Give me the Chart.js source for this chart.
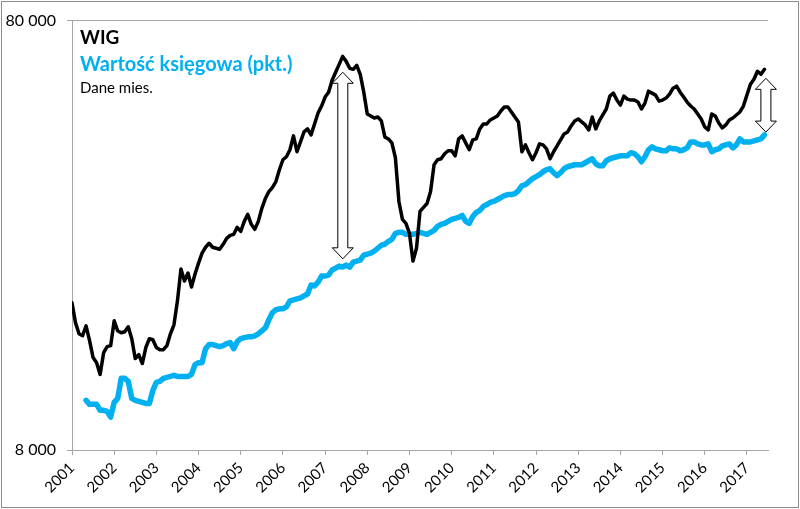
<!DOCTYPE html>
<html>
<head>
<meta charset="utf-8">
<script src="https://cdn.jsdelivr.net/npm/chart.js@4/dist/chart.umd.min.js"></script>
<style>
  html, body { margin: 0; padding: 0; background: #fff; }
  #wrap { width: 800px; height: 509px; position: relative; }
</style>
</head>
<body>
<div id="wrap"><canvas id="chart" width="800" height="509"></canvas></div>
<script>
// monthly data, Jan 2001 .. Jun 2017
const startYear = 2001;
const yearTicks = [2001, 2002, 2003, 2004, 2005, 2006, 2007, 2008, 2009,
                   2010, 2011, 2012, 2013, 2014, 2015, 2016, 2017];
const valueTicks = [8000, 80000];

const wig = [
  17610, 15820, 14920, 14760, 15570, 14380, 13130, 12780, 12000, 13480, 13930, 14000,
  15990, 15160, 15000, 15080, 15490, 14530, 13060, 13340, 12720, 13860, 14530, 14450,
  13860, 13700, 13700, 14000, 14920, 15650, 17800, 21110, 19800, 20670, 19170, 20560,
  21790, 22990, 23730, 24240, 23730, 23600, 23480, 24110, 24890, 25290, 25430, 26400,
  25840, 27260, 28300, 26830, 26120, 27260, 29220, 30810, 31980, 32670, 33740, 35960,
  37930, 38550, 40020, 43110, 39600, 41750, 44040, 44750, 43340, 45970, 48750, 50600,
  53080, 54510, 58110, 60640, 63270, 66030, 64290, 61940, 61610, 62930, 59990, 54510,
  48490, 47970, 47460, 47720, 46710, 42880, 42420, 41530, 38340, 30330, 27550, 26970,
  25560, 22030, 23600, 28750, 29380, 30000, 31980, 36930, 37930, 38140, 39180, 39810,
  39810, 38750, 42420, 43110, 41530, 40020, 42200, 42420, 44750, 45970, 45970, 46960,
  47460, 47970, 49270, 50330, 50330, 49010, 47720, 46460, 39600, 41080, 39390, 37930,
  39390, 41300, 41080, 40220, 38140, 39600, 40860, 42200, 43570, 44040, 45480, 46710,
  47210, 46460, 45730, 44510, 47720, 44750, 46710, 48230, 49800, 53370, 54220, 52240,
  50870, 53370, 52520, 52240, 52240, 51690, 49800, 51410, 54800, 54220, 53650, 51960,
  52240, 52800, 53930, 55690, 56290, 54510, 53080, 51690, 50600, 49800, 48490, 47210,
  45240, 44510, 48490, 47970, 46210, 44990, 45730, 46960, 47460, 48230, 49010, 50600,
  53650, 56880, 58420, 60960, 59990, 61610
];

const bookValue = [
  null, null, null, null, 10440, 10220, 10220, 10220, 9900, 9900, 9840, 9540,
  10330, 10550, 11750, 11750, 11560, 10550, 10440, 10380, 10330, 10270, 10270, 11010,
  11500, 11560, 11750, 11810, 11870, 11940, 11870, 11870, 11870, 11870, 12000, 12650,
  12780, 12780, 13770, 14080, 14080, 14000, 13930, 14000, 14150, 14230, 13770, 14300,
  14530, 14610, 14680, 14680, 14760, 14920, 15160, 15400, 16080, 16690, 16970, 17060,
  17060, 17240, 17800, 17890, 17990, 18090, 18280, 18470, 19380, 19280, 19690, 20330,
  20330, 20450, 21000, 21220, 21450, 21340, 21560, 21340, 21910, 22030, 22140, 22740,
  22870, 22990, 23230, 23600, 23990, 24110, 24500, 24760, 25560, 25710, 25710, 25430,
  25430, 25430, 25560, 25710, 25560, 25430, 25710, 25980, 26540, 26830, 26970, 27260,
  27550, 27700, 27840, 28140, 27260, 26970, 27990, 28600, 28900, 29530, 29840, 30170,
  30330, 30650, 30970, 31300, 31470, 31470, 31630, 32150, 33020, 33200, 33740, 34270,
  34640, 35010, 35570, 35960, 36150, 35380, 34830, 35380, 36150, 36540, 36730, 36930,
  36930, 36930, 37330, 37730, 38140, 37130, 36730, 36730, 37730, 38140, 38340, 38550,
  38750, 38750, 38750, 39390, 39180, 38550, 37530, 38550, 40020, 40650, 40220, 40020,
  39810, 39810, 40430, 40220, 40220, 39810, 40020, 40430, 41750, 41750, 41300, 41080,
  41080, 41300, 39600, 40020, 40220, 40860, 41080, 41300, 40430, 41080, 42420, 41750,
  41750, 41750, 41970, 42200, 42420, 43340
];

// double arrows showing the gap: [x (year), top value, bottom value]
const gapArrows = [
  [2007.42, 60640, 22300],
  [2017.45, 58700, 44000]
];

const months = wig.map((_, i) => startYear + i / 12);
const toPoints = arr => arr.map((v, i) => ({ x: months[i], y: v }));

const GRAY = '#a6a6a6';
const CYAN = '#00b0f0';
const FONT = 'Lato, "Open Sans", sans-serif';

const fmtSpace = v => String(v).replace(/\B(?=(\d{3})+(?!\d))/g, ' ');

const extras = {
  id: 'extras',
  afterDatasetsDraw(chart) {
    const { ctx, scales: { x, y } } = chart;
    ctx.save();
    gapArrows.forEach(([yr, top, bot]) => {
      const cx = x.getPixelForValue(yr);
      const y1 = y.getPixelForValue(top);
      const y2 = y.getPixelForValue(bot);
      const hw = 10.5, sw = 5, hl = 11;
      ctx.beginPath();
      ctx.moveTo(cx, y1);
      ctx.lineTo(cx + hw, y1 + hl);
      ctx.lineTo(cx + sw, y1 + hl);
      ctx.lineTo(cx + sw, y2 - hl);
      ctx.lineTo(cx + hw, y2 - hl);
      ctx.lineTo(cx, y2);
      ctx.lineTo(cx - hw, y2 - hl);
      ctx.lineTo(cx - sw, y2 - hl);
      ctx.lineTo(cx - sw, y1 + hl);
      ctx.lineTo(cx - hw, y1 + hl);
      ctx.closePath();
      ctx.fillStyle = '#fff';
      ctx.fill();
      ctx.lineWidth = 1;
      ctx.strokeStyle = '#000';
      ctx.stroke();
    });
    ctx.restore();
  },
  afterDraw(chart) {
    const { ctx } = chart;
    ctx.save();
    ctx.textAlign = 'left';
    ctx.textBaseline = 'alphabetic';
    ctx.fillStyle = '#000';
    ctx.font = 'bold 19px ' + FONT;
    ctx.fillText('WIG', 80, 44);
    ctx.fillStyle = CYAN;
    ctx.font = 'bold 20px ' + FONT;
    ctx.fillText('Wartość księgowa (pkt.)', 80, 71);
    ctx.fillStyle = '#000';
    ctx.font = '15px ' + FONT;
    ctx.fillText('Dane mies.', 80, 93);
    // outer frame
    ctx.strokeStyle = '#8c8c8c';
    ctx.lineWidth = 1;
    ctx.strokeRect(1.5, 1.5, 797, 506);
    ctx.restore();
  }
};

new Chart(document.getElementById('chart'), {
  type: 'line',
  data: {
    datasets: [
      {
        label: 'WIG',
        data: toPoints(wig),
        borderColor: '#000',
        borderWidth: 3.5,
        pointRadius: 0,
        tension: 0,
        borderJoinStyle: 'round',
        borderCapStyle: 'round'
      },
      {
        label: 'Wartość księgowa (pkt.)',
        data: toPoints(bookValue),
        borderColor: CYAN,
        borderWidth: 5.5,
        pointRadius: 0,
        tension: 0,
        spanGaps: false,
        borderJoinStyle: 'round',
        borderCapStyle: 'round'
      }
    ]
  },
  options: {
    responsive: false,
    animation: false,
    layout: { padding: { top: 18, right: 32, left: 0, bottom: 0 } },
    plugins: {
      legend: { display: false },
      tooltip: { enabled: false }
    },
    scales: {
      x: {
        type: 'linear',
        min: 2001,
        max: 2017.5,
        afterBuildTicks: s => { s.ticks = yearTicks.map(v => ({ value: v })); },
        afterFit: s => { s.height = 59; },
        grid: { drawOnChartArea: false, drawTicks: true, tickLength: 5, color: GRAY },
        border: { color: GRAY },
        ticks: {
          minRotation: 45,
          maxRotation: 45,
          padding: 4,
          color: '#000',
          font: { family: FONT, size: 15 },
          callback: v => String(v)
        }
      },
      y: {
        type: 'logarithmic',
        min: 8000,
        max: 80000,
        afterBuildTicks: s => { s.ticks = valueTicks.map(v => ({ value: v })); },
        afterFit: s => { s.width = 72; },
        grid: { drawTicks: true, tickLength: 5, color: GRAY },
        border: { color: GRAY },
        ticks: {
          padding: 11,
          color: '#000',
          font: { family: FONT, size: 16 },
          callback: v => fmtSpace(v)
        }
      }
    }
  },
  plugins: [extras]
});
</script>
</body>
</html>
